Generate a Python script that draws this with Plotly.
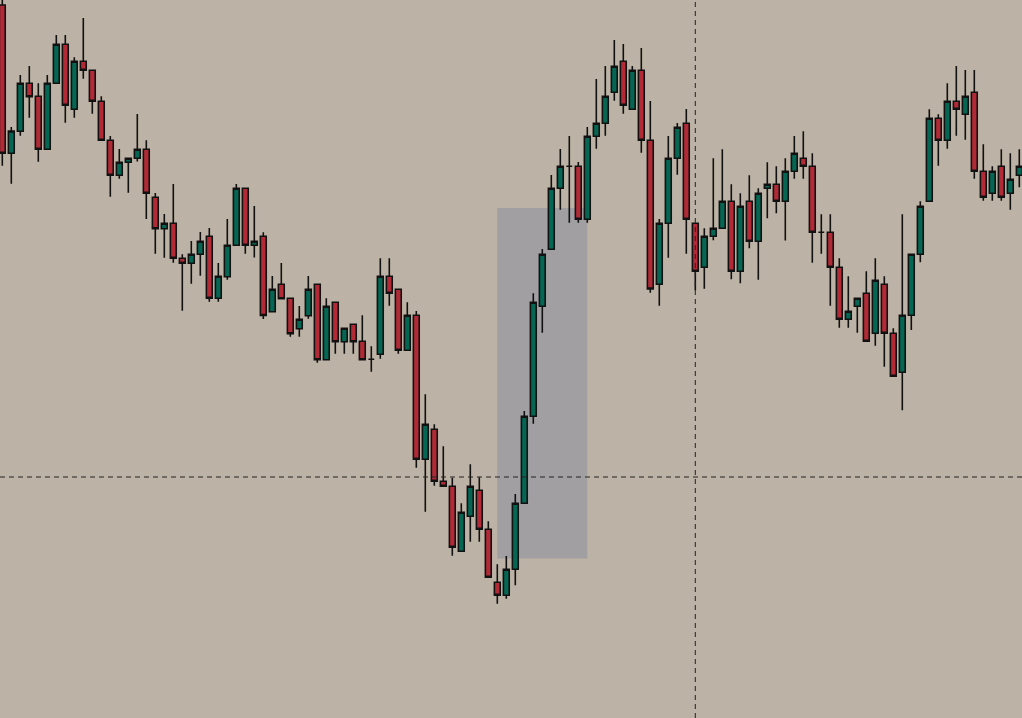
import plotly.graph_objects as go

# bar index (one per candle)
bars = list(range(114))

opens = [713, 564.7, 586.7, 634.7, 621.7, 568.7, 634.7, 673.7, 608.7, 656.7,
         647.7, 616.7, 577.7, 542.7, 555.7, 559.7, 568.7, 520.7, 489.3, 494.7,
         459.7, 454.7, 463.7, 481.7, 419.7, 441.3, 472.7, 529.7, 472.7, 481.7,
         406.3, 433.7, 419.7, 389.3, 402.3, 433.7, 358.3, 415.7, 376.3, 393.7,
         376.7, 358.7, 363.7, 441.7, 428.7, 367.7, 402.7, 258.7, 288.7, 236.7,
         231.7, 166.7, 201.7, 227.7, 188.7, 135.7, 122.7, 148.7, 214.7, 301.7,
         411.7, 468.7, 529.7, 551.7, 551.7, 498.7, 581.7, 594.7, 625.7, 656.7,
         608.7, 647.7, 577.7, 433.7, 494.7, 559.7, 594.7, 494.7, 450.7, 481.7,
         489.7, 516.7, 446.7, 516.7, 476.7, 529.7, 533.7, 516.7, 546.7, 559.7,
         551.7, 485.7, 485.7, 450.7, 398.7, 411.7, 424.7, 384.7, 433.7, 384.7,
         345.7, 402.7, 463.7, 516.7, 599.7, 577.7, 616.7, 603.7, 625.7, 546.7,
         524.7, 551.7, 524.7, 542.7]

highs = [723, 591, 643, 652, 634.7, 643, 683, 683, 660.7, 700,
         647.7, 621.7, 582, 569, 559.7, 604, 577.7, 525, 504, 534,
         463.7, 477, 486, 490, 455, 499, 534, 529.7, 512, 485.7,
         442, 455, 419.7, 412, 442, 433.7, 419.7, 415.7, 389.7, 393.7,
         402.7, 371.7, 459.7, 459.7, 428.7, 415.7, 407, 323.7, 293.7, 271.7,
         240.3, 214.7, 253.7, 240.7, 196.7, 153.7, 162, 224, 307, 424.7,
         469, 543, 569, 582, 556, 591, 639, 652, 678, 674,
         652, 670, 617, 499, 582, 595, 609, 494.7, 489.7, 559.7,
         568.7, 533.7, 524.7, 542.7, 529.7, 555.7, 551.7, 559.7, 582, 586.7,
         564.7, 503.7, 503.7, 459.7, 441.7, 419.7, 446.7, 459.7, 441.7, 389.7,
         503.7, 463.7, 516.7, 608.7, 603.7, 634.7, 652, 648, 648, 573.7,
         551.7, 568.7, 564.7, 568.7]

lows = [552.3, 534.3, 582.3, 600.3, 556.3, 568.3, 634.7, 595.3, 600.3, 639.3,
        604.3, 577.7, 521.3, 539.3, 525.3, 556.5, 499, 464.3, 460.3, 455.3,
        407.3, 434.3, 442.3, 416.3, 416.3, 438.3, 472.7, 464.3, 460.5, 399,
        406.3, 419.3, 381.3, 381.3, 399.3, 355.3, 358.3, 364.3, 364.3, 364.3,
        358.3, 346.3, 359.3, 412.3, 364.3, 367.7, 250.3, 206.3, 232.3, 231.7,
        162.3, 166.7, 176.3, 176.3, 140.7, 114.3, 119.3, 132.7, 214.7, 294.3,
        385.3, 468.7, 508.3, 495.3, 495.3, 495.3, 569.3, 582.3, 617.3, 604.3,
        608.7, 565.3, 425.3, 412.3, 460.3, 543.3, 464.3, 427.7, 429.3, 477.7,
        489.7, 438.7, 434.7, 469.7, 438.3, 499.7, 504.7, 477.5, 539.3, 539.3,
        455.3, 464.3, 412.3, 390.3, 390.3, 385.3, 376.7, 372.3, 351.3, 341.7,
        307.7, 388, 455.7, 516.7, 552.3, 569.3, 582.3, 578.3, 539.3, 517.3,
        517.3, 517.3, 508.3, 530.7]

closes = [564.7, 587, 634.7, 621.3, 568.7, 634.7, 673.7, 612.7, 656.7, 647.7,
          616.7, 577.7, 542.7, 555.7, 559.7, 568.7, 524.7, 489.3, 494.7, 459.7,
          454.7, 463.7, 476.7, 419.7, 441.7, 472.7, 529.7, 472.7, 476.7, 402.5,
          428.7, 419.3, 384.3, 398.7, 428.7, 358.3, 411.7, 376.3, 389.7, 376.3,
          358.3, 358.7, 441.7, 424.7, 367.7, 402.7, 258.7, 293.7, 236.7, 231.7,
          170.7, 205.7, 231.7, 188.7, 140.7, 122.7, 148.7, 214.7, 301.7, 415.7,
          463.7, 529.7, 551.7, 551.7, 498.7, 581.7, 594.7, 621.7, 651.7, 612.7,
          647.7, 577.7, 429, 494.7, 559.7, 590.7, 498.7, 446.7, 481.7, 489.7,
          516.7, 446.7, 511.7, 476.7, 524.7, 533.7, 516.7, 546.7, 564.7, 551.7,
          485.7, 485.7, 450.7, 398.7, 406.7, 419.7, 376.7, 437.7, 384.7, 341.7,
          402.7, 463.7, 511.7, 599.7, 577.7, 616.7, 608.7, 621.7, 546.7, 520.7,
          546.7, 520.7, 538.7, 551.7]

# highlighted zone (bar range and price range)
zone_bars = [55, 65]
zone_prices = [159.5, 510]

# crosshair position
cross_bar = 77
cross_price = 241

BG = "#bcb2a5"
UP = "#046653"
DOWN = "#b22a36"
EDGE = "#111111"

fig = go.Figure(go.Candlestick(
    x=bars,
    open=opens,
    high=highs,
    low=lows,
    close=closes,
    increasing=dict(fillcolor=UP, line=dict(color=EDGE, width=1.6)),
    decreasing=dict(fillcolor=DOWN, line=dict(color=EDGE, width=1.6)),
    whiskerwidth=0,
    hoverinfo="skip",
))

fig.add_shape(
    type="rect", xref="x", yref="y",
    x0=zone_bars[0], x1=zone_bars[1], y0=zone_prices[0], y1=zone_prices[1],
    fillcolor="#a19fa2", line=dict(width=0), layer="below",
)
fig.add_shape(
    type="line", xref="x", yref="paper",
    x0=cross_bar, x1=cross_bar, y0=0, y1=1,
    line=dict(color="#222222", width=1, dash="5px,4px"),
)
fig.add_shape(
    type="line", xref="paper", yref="y",
    x0=0, x1=1, y0=cross_price, y1=cross_price,
    line=dict(color="#222222", width=1, dash="5px,4px"),
)

fig.update_layout(
    width=1022,
    height=718,
    margin=dict(t=0, b=0, l=0, r=0),
    paper_bgcolor=BG,
    plot_bgcolor=BG,
    showlegend=False,
    boxgap=0.35,
    boxgroupgap=0,
    xaxis=dict(range=[-0.256, 113.3], showgrid=False, zeroline=False,
               showticklabels=False, rangeslider=dict(visible=False), fixedrange=True),
    yaxis=dict(range=[0, 718], showgrid=False, zeroline=False,
               showticklabels=False, fixedrange=True),
)

# drop the page's default body margin so the chart fills the window
fig.write_html("out.html", config={"displayModeBar": False},
               post_script="document.body.style.margin='0';document.body.style.overflow='hidden';")
